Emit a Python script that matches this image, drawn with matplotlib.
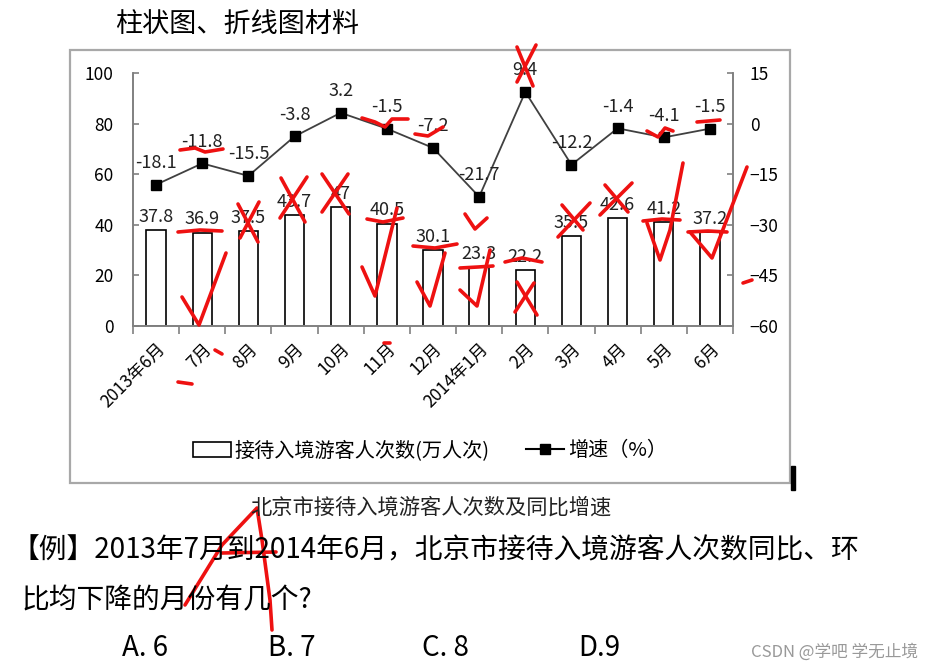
import matplotlib
matplotlib.use("Agg")
import matplotlib.pyplot as plt
from matplotlib.patches import Rectangle, Patch
from matplotlib.lines import Line2D

plt.rcParams['font.family'] = ['Noto Sans CJK SC', 'DejaVu Sans']

# data
months = ['2013年6月', '7月', '8月', '9月', '10月', '11月', '12月',
          '2014年1月', '2月', '3月', '4月', '5月', '6月']
visitors = [37.8, 36.9, 37.5, 43.7, 47, 40.5, 30.1, 23.3, 22.2, 35.5, 42.6, 41.2, 37.2]
growth = [-18.1, -11.8, -15.5, -3.8, 3.2, -1.5, -7.2, -21.7, 9.4, -12.2, -1.4, -4.1, -1.5]

left_ticks = [0, 20, 40, 60, 80, 100]
right_ticks = [-60, -45, -30, -15, 0, 15]
options = ['A. 6', 'B. 7', 'C. 8', 'D.9']

fig = plt.figure(figsize=(9.34, 6.71), dpi=100)
W, H = 934, 671

def fx(px):
    return px / W

def fy(py):
    return 1 - py / H

# chart frame (grey box of the screenshot)
fig.patches.append(Rectangle((fx(70), fy(483)), fx(790) - fx(70), fy(50) - fy(483),
                             transform=fig.transFigure, fill=False,
                             edgecolor='#a8a8a8', linewidth=1.6))
fig.patches.append(Rectangle((fx(791), fy(490)), fx(4), fy(466) - fy(490),
                             transform=fig.transFigure, color='black'))

ax = fig.add_axes([fx(133), fy(326), fx(733) - fx(133), fy(73) - fy(326)])
ax2 = ax.twinx()

x = list(range(len(months)))
ax.bar(x, visitors, width=0.42, color='white', edgecolor='black', linewidth=1.2, zorder=2)
for xi, v in zip(x, visitors):
    ax.annotate(f'{v:g}', (xi, v), xytext=(0, 3), textcoords='offset points',
                ha='center', va='bottom', fontsize=13, color='#222222')

ax2.plot(x, growth, color='#404040', linewidth=1.3, marker='s', markersize=7.5,
         markerfacecolor='black', markeredgecolor='black', zorder=3)
for xi, g in zip(x, growth):
    ax2.annotate(f'{g:g}', (xi, g), xytext=(0, 9), textcoords='offset points',
                 ha='center', va='bottom', fontsize=13, color='#222222')

ax.set_xlim(-0.5, len(months) - 0.5)
ax.set_ylim(0, 100)
ax2.set_ylim(-60, 15)
ax.set_yticks(left_ticks)
ax2.set_yticks(right_ticks)
ax.set_xticks([i - 0.5 for i in range(len(months) + 1)])
ax.set_xticklabels([])
ax.set_xticks(x, minor=True)
ax.set_xticklabels(months, minor=True, rotation=45, ha='right', rotation_mode='anchor', fontsize=12.5)
ax.tick_params(axis='x', which='minor', length=0, pad=10)
ax.tick_params(axis='x', which='major', length=6, color='#808080', width=1.2)
ax.tick_params(axis='y', direction='in', length=4, color='#808080', width=1.2, labelsize=12.5, pad=14)
ax2.tick_params(axis='y', direction='in', length=4, color='#808080', width=1.2, labelsize=12.5, pad=12)

for a in (ax, ax2):
    a.spines['top'].set_visible(False)
    for s in ('left', 'right', 'bottom'):
        a.spines[s].set_color('#808080')
        a.spines[s].set_linewidth(1.2)
    a.patch.set_alpha(0)

handles = [Patch(facecolor='white', edgecolor='black', linewidth=1.2),
           Line2D([0], [0], color='black', marker='s', markersize=7)]
fig.legend(handles, ['接待入境游客人次数(万人次)', '增速（%）'], loc='center',
           bbox_to_anchor=(fx(430), fy(451)), ncol=2, frameon=False, fontsize=14.5,
           handlelength=1.9, handletextpad=0.2, columnspacing=1.8)

fig.text(fx(115), fy(25), '柱状图、折线图材料', fontsize=19.5, va='center', ha='left')
fig.text(fx(431), fy(508), '北京市接待入境游客人次数及同比增速', fontsize=15.3,
         va='center', ha='center', color='#222222')
fig.text(fx(12), fy(550), '【例】2013年7月到2014年6月，北京市接待入境游客人次数同比、环',
         fontsize=20, va='center', ha='left')
fig.text(fx(22), fy(600), '比均下降的月份有几个?', fontsize=20, va='center', ha='left')
for px, opt in zip([122, 268, 422, 578], options):
    fig.text(fx(px), fy(648), opt, fontsize=20, va='center', ha='left')
fig.text(fx(918), fy(652), 'CSDN @学吧 学无止境', fontsize=12, va='center', ha='right', color='#999999')

# red handwriting on the screenshot (pixel coordinates of the picture)
scribbles = [
    [(517, 47), (533, 86)], [(536, 45), (517, 82)],                      # X on 9.4
    [(180, 150), (195, 148), (205, 152), (223, 149)],                    # -11.8
    [(362, 118), (375, 122), (385, 127), (392, 119), (408, 119)],        # -1.5
    [(415, 134), (428, 136), (443, 127)],                                # -7.2
    [(178, 232), (200, 230), (222, 231)],                                # 36.9
    [(182, 297), (199, 325), (226, 253)],                                # check 7月
    [(238, 204), (258, 242)], [(259, 202), (240, 238)],                  # X 37.5
    [(281, 178), (305, 222)], [(307, 177), (280, 218)],                  # X 43.7
    [(322, 174), (349, 214)], [(348, 174), (322, 212)],                  # X 47
    [(367, 219), (383, 222), (403, 218)],                                # 40.5
    [(362, 267), (375, 296), (397, 208)],                                # check 11月
    [(413, 246), (435, 248), (457, 244)],                                # 30.1
    [(417, 282), (430, 306), (445, 253)],                                # check 12月
    [(465, 214), (475, 229), (487, 218)],                                # -21.7
    [(460, 268), (478, 267), (493, 266)],                                # 23.3
    [(460, 290), (477, 306), (490, 250)],                                # check 1月
    [(505, 262), (522, 258), (542, 262)],                                # 22.2
    [(517, 282), (537, 315)], [(534, 283), (515, 312)],                  # X 2月
    [(558, 237), (590, 203)], [(562, 205), (583, 230)],                  # X 35.5
    [(600, 215), (632, 183)], [(605, 185), (628, 212)],                  # X 42.6
    [(643, 221), (662, 219), (680, 220)],                                # 41.2
    [(647, 223), (660, 260), (670, 230), (683, 163)],                    # check 5月
    [(688, 232), (708, 231), (727, 232)],                                # 37.2
    [(690, 232), (712, 258), (747, 167)],                                # check 6月
    [(647, 131), (658, 137), (665, 128), (673, 131)],                    # -4.1
    [(697, 122), (720, 120)],                                            # -1.5
    [(743, 283), (752, 280)],
    [(178, 382), (192, 384)], [(215, 350), (222, 354)], [(384, 343), (390, 343)],
    [(185, 605), (222, 545), (257, 508), (262, 540), (270, 600), (272, 630)],  # big A
    [(222, 553), (276, 552)],
]
for pts in scribbles:
    xs = [fx(p[0]) for p in pts]
    ys = [fy(p[1]) for p in pts]
    fig.add_artist(Line2D(xs, ys, color='#ee1111', linewidth=2.6,
                          solid_capstyle='round', solid_joinstyle='round'))

fig.savefig('out.png', dpi=100)
